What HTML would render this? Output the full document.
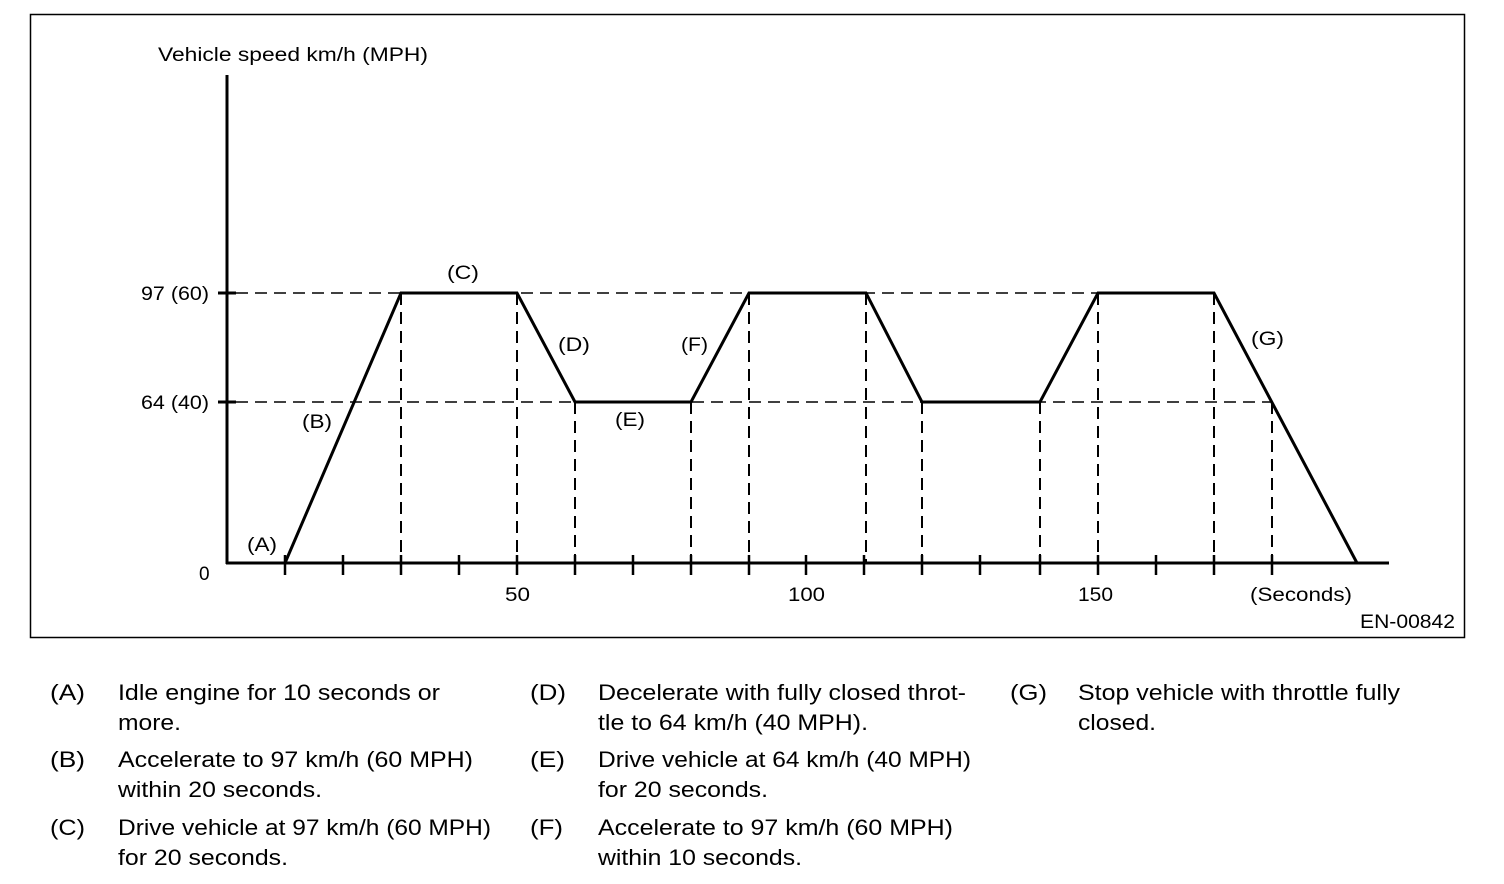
<!DOCTYPE html>
<html><head><style>
body{margin:0;background:#fff;}
svg{display:block}
text{font-family:"Liberation Sans",sans-serif;fill:#000}
</style></head><body>
<svg width="1504" height="884" viewBox="0 0 1504 884">
<rect x="30.5" y="14.5" width="1434" height="623" fill="none" stroke="#000" stroke-width="1.5"/>
<g stroke="#000" stroke-width="1.5" stroke-dasharray="12,7" fill="none">
<line x1="236" y1="293" x2="1214" y2="293"/>
<line x1="236" y1="402" x2="1272" y2="402"/>
<g stroke-width="2">
<line x1="401" y1="293" x2="401" y2="563"/>
<line x1="517" y1="293" x2="517" y2="563"/>
<line x1="575" y1="402" x2="575" y2="563"/>
<line x1="691" y1="402" x2="691" y2="563"/>
<line x1="749" y1="293" x2="749" y2="563"/>
<line x1="866" y1="293" x2="866" y2="563"/>
<line x1="922" y1="402" x2="922" y2="563"/>
<line x1="1040" y1="402" x2="1040" y2="563"/>
<line x1="1098" y1="293" x2="1098" y2="563"/>
<line x1="1214" y1="293" x2="1214" y2="563"/>
<line x1="1272" y1="402" x2="1272" y2="563"/>
</g></g>
<g stroke="#000" stroke-width="3" fill="none">
<line x1="227" y1="75" x2="227" y2="564"/>
<line x1="226" y1="563" x2="1389" y2="563"/>
<line x1="218" y1="293" x2="236" y2="293"/>
<line x1="218" y1="402" x2="236" y2="402"/>
<path d="M285 555V575M343 555V575M401 555V575M459 555V575M517 555V575M575 555V575M633 555V575M691 555V575M749 555V575M806 555V575M864 555V575M922 555V575M980 555V575M1040 555V575M1098 555V575M1156 555V575M1214 555V575M1272 555V575" stroke-width="2.5"/>
<polyline points="285,563 401,293 517,293 575,402 691,402 749,293 866,293 922,402 1040,402 1098,293 1214,293 1357,563" stroke-linejoin="miter"/>
</g>
<g font-size="19" lengthAdjust="spacingAndGlyphs">
<text x="158" y="61" textLength="270" lengthAdjust="spacingAndGlyphs">Vehicle speed km/h (MPH)</text>
<text x="141" y="300" textLength="68" lengthAdjust="spacingAndGlyphs">97 (60)</text>
<text x="141" y="409" textLength="68" lengthAdjust="spacingAndGlyphs">64 (40)</text>
<text x="199" y="580">0</text>
<text x="247" y="551" textLength="30" lengthAdjust="spacingAndGlyphs">(A)</text>
<text x="302" y="428" textLength="30" lengthAdjust="spacingAndGlyphs">(B)</text>
<text x="447" y="279" textLength="32" lengthAdjust="spacingAndGlyphs">(C)</text>
<text x="558" y="351" textLength="32" lengthAdjust="spacingAndGlyphs">(D)</text>
<text x="615" y="426" textLength="30" lengthAdjust="spacingAndGlyphs">(E)</text>
<text x="681" y="351" textLength="27" lengthAdjust="spacingAndGlyphs">(F)</text>
<text x="1251" y="345" textLength="33" lengthAdjust="spacingAndGlyphs">(G)</text>
<text x="505" y="601" textLength="25" lengthAdjust="spacingAndGlyphs">50</text>
<text x="788" y="601" textLength="37" lengthAdjust="spacingAndGlyphs">100</text>
<text x="1078" y="601" textLength="35" lengthAdjust="spacingAndGlyphs">150</text>
<text x="1250" y="601" textLength="102" lengthAdjust="spacingAndGlyphs">(Seconds)</text>
<text x="1360" y="628" textLength="95" lengthAdjust="spacingAndGlyphs">EN-00842</text>
</g>
<g font-size="22">
<text x="50" y="700" textLength="35" lengthAdjust="spacingAndGlyphs">(A)</text><text x="118" y="700" textLength="322" lengthAdjust="spacingAndGlyphs">Idle engine for 10 seconds or</text><text x="118" y="730" textLength="63" lengthAdjust="spacingAndGlyphs">more.</text>
<text x="50" y="767" textLength="35" lengthAdjust="spacingAndGlyphs">(B)</text><text x="118" y="767" textLength="355" lengthAdjust="spacingAndGlyphs">Accelerate to 97 km/h (60 MPH)</text><text x="118" y="797" textLength="204" lengthAdjust="spacingAndGlyphs">within 20 seconds.</text>
<text x="50" y="835" textLength="35" lengthAdjust="spacingAndGlyphs">(C)</text><text x="118" y="835" textLength="373" lengthAdjust="spacingAndGlyphs">Drive vehicle at 97 km/h (60 MPH)</text><text x="118" y="865" textLength="170" lengthAdjust="spacingAndGlyphs">for 20 seconds.</text>
<text x="530" y="700" textLength="36" lengthAdjust="spacingAndGlyphs">(D)</text><text x="598" y="700" textLength="368" lengthAdjust="spacingAndGlyphs">Decelerate with fully closed throt-</text><text x="598" y="730" textLength="270" lengthAdjust="spacingAndGlyphs">tle to 64 km/h (40 MPH).</text>
<text x="530" y="767" textLength="35" lengthAdjust="spacingAndGlyphs">(E)</text><text x="598" y="767" textLength="373" lengthAdjust="spacingAndGlyphs">Drive vehicle at 64 km/h (40 MPH)</text><text x="598" y="797" textLength="170" lengthAdjust="spacingAndGlyphs">for 20 seconds.</text>
<text x="530" y="835" textLength="33" lengthAdjust="spacingAndGlyphs">(F)</text><text x="598" y="835" textLength="355" lengthAdjust="spacingAndGlyphs">Accelerate to 97 km/h (60 MPH)</text><text x="598" y="865" textLength="204" lengthAdjust="spacingAndGlyphs">within 10 seconds.</text>
<text x="1010" y="700" textLength="37" lengthAdjust="spacingAndGlyphs">(G)</text><text x="1078" y="700" textLength="322" lengthAdjust="spacingAndGlyphs">Stop vehicle with throttle fully</text><text x="1078" y="730" textLength="78" lengthAdjust="spacingAndGlyphs">closed.</text>
</g>
</svg>
</body></html>
